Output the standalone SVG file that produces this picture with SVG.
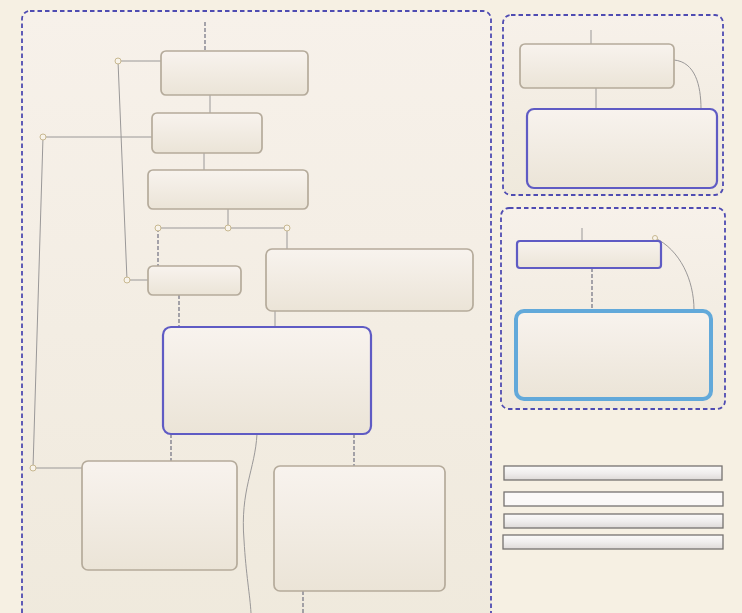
<svg xmlns="http://www.w3.org/2000/svg" width="742" height="613" viewBox="0 0 742 613">
<defs>
<linearGradient id="nodeG" x1="0" y1="0" x2="0" y2="1">
<stop offset="0" stop-color="#f8f3ee"/>
<stop offset="1" stop-color="#ebe4d7"/>
</linearGradient>
<linearGradient id="contG" x1="0" y1="0" x2="0" y2="1">
<stop offset="0" stop-color="#f7f1ea"/>
<stop offset="1" stop-color="#efe9dc"/>
</linearGradient>
<linearGradient id="barG" x1="0" y1="0" x2="0" y2="1">
<stop offset="0" stop-color="#fbfaf9"/>
<stop offset="0.5" stop-color="#f0eeee"/>
<stop offset="1" stop-color="#dedad8"/>
</linearGradient>
<style>
.cont{fill:url(#contG);stroke:#4f4cb2;stroke-width:1.8;stroke-dasharray:4.5 3}
.node{fill:url(#nodeG);stroke:#b5ab9b;stroke-width:1.7}
.blue{fill:url(#nodeG);stroke:#5f5bc4;stroke-width:2.2}
.sky{fill:url(#nodeG);stroke:#62a9da;stroke-width:4}
.bar{fill:url(#barG);stroke:#767270;stroke-width:1.3}
.c{fill:none;stroke:#9a9898;stroke-width:1}
.cd{fill:none;stroke:#6f7080;stroke-width:1.2;stroke-dasharray:4 2}
.j{fill:#f8f3ea;stroke:#c8b890;stroke-width:1}
</style>
</defs>
<rect width="742" height="613" fill="#f6f0e3"/>
<g id="containers">
<rect id="left-container" class="cont" x="22" y="11" width="469" height="640" rx="8"/>
<rect id="right-container-1" class="cont" x="503" y="15" width="220" height="180" rx="8"/>
<rect id="right-container-2" class="cont" x="501" y="208" width="224" height="201" rx="8"/>
</g>
<g id="connectors">
<path class="cd" d="M205 22V51"/>
<path class="c" d="M210 95V113" stroke="#777"/>
<path class="c" d="M204 153V170" stroke="#777"/>
<path class="c" d="M228 209V228"/>
<path class="c" d="M158 228H287"/>
<path class="cd" d="M158 228V266"/>
<path class="c" d="M287 228V249"/>
<path class="c" d="M118 61H161"/>
<path class="c" d="M118 61L127 280H148"/>
<path class="c" d="M43 137H152"/>
<path class="c" d="M43 137L33 468H82"/>
<path class="cd" d="M179 295V327"/>
<path class="c" d="M275 311V327"/>
<path class="cd" d="M171 434V461"/>
<path class="cd" d="M354 434V466"/>
<path class="cd" d="M303 591V613"/>
<path class="c" d="M257 434C255 470 240 490 244 540C246 575 250 595 251 613"/>
<path class="c" d="M591 30V44"/>
<path class="c" d="M596 88V109" stroke="#6a8a8a"/>
<path class="c" d="M674 60C695 62 701 85 701 109"/>
<path class="c" d="M582 228V241"/>
<path class="cd" d="M592 268V310" stroke-dasharray="2 1.5"/>
<path class="c" d="M655 238C680 250 694 280 694 310"/>
<circle class="j" cx="118" cy="61" r="3"/>
<circle class="j" cx="43" cy="137" r="3"/>
<circle class="j" cx="158" cy="228" r="3"/>
<circle class="j" cx="228" cy="228" r="3"/>
<circle class="j" cx="287" cy="228" r="3"/>
<circle class="j" cx="127" cy="280" r="3"/>
<circle class="j" cx="33" cy="468" r="3"/>
<circle class="j" cx="655" cy="238" r="2.5"/>
</g>
<g id="n1"><rect class="node" x="161" y="51" width="147" height="44" rx="5"/></g>
<g id="n2"><rect class="node" x="152" y="113" width="110" height="40" rx="5"/></g>
<g id="n3"><rect class="node" x="148" y="170" width="160" height="39" rx="5"/></g>
<g id="n4"><rect class="node" x="148" y="266" width="93" height="29" rx="5"/></g>
<g id="n5"><rect class="node" x="266" y="249" width="207" height="62" rx="6"/></g>
<g id="n6"><rect class="blue" x="163" y="327" width="208" height="107" rx="8"/></g>
<g id="n7"><rect class="node" x="82" y="461" width="155" height="109" rx="6"/></g>
<g id="n8"><rect class="node" x="274" y="466" width="171" height="125" rx="6"/></g>
<g id="n9"><rect class="node" x="520" y="44" width="154" height="44" rx="5"/></g>
<g id="n10"><rect class="blue" x="527" y="109" width="190" height="79" rx="7"/></g>
<g id="n11"><rect class="blue" x="517" y="241" width="144" height="27" rx="3"/></g>
<g id="n12"><rect class="sky" x="516" y="311" width="195" height="88" rx="8"/></g>
<g id="b1"><rect class="bar" x="504" y="466" width="218" height="14"/></g>
<g id="b2"><rect class="bar" x="504" y="492" width="219" height="14" style="fill:#fbf9f8"/></g>
<g id="b3"><rect class="bar" x="504" y="514" width="219" height="14"/></g>
<g id="b4"><rect class="bar" x="503" y="535" width="220" height="14"/></g>
</svg>
